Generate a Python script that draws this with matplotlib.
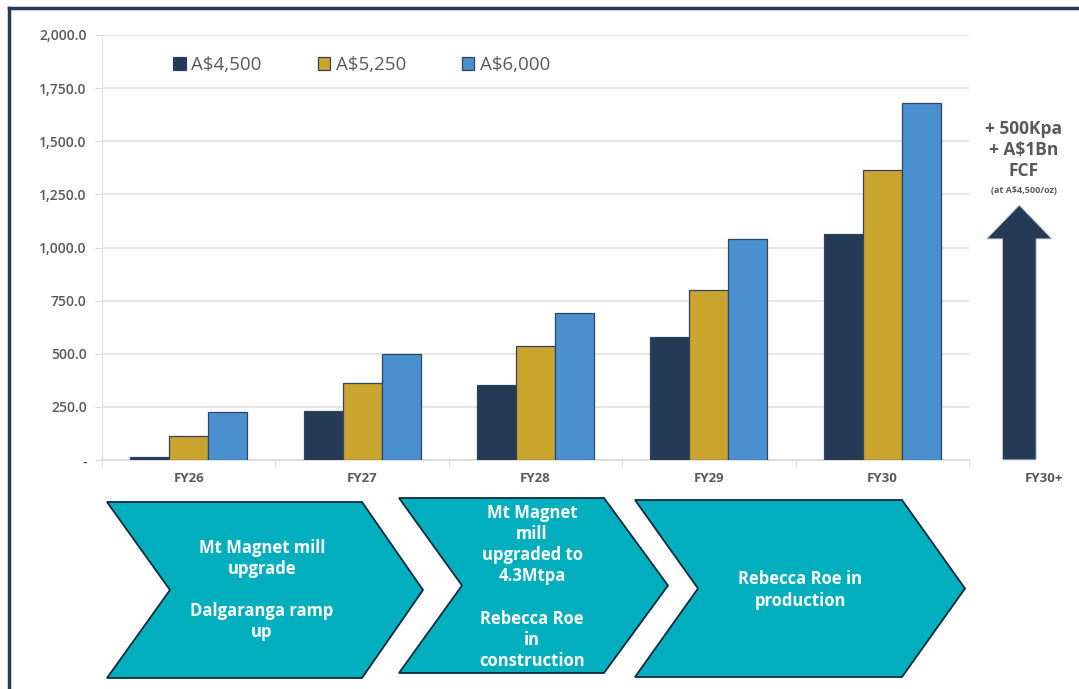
import matplotlib
matplotlib.use("Agg")
import matplotlib.pyplot as plt
from matplotlib.patches import Polygon
from matplotlib.lines import Line2D
import numpy as np

plt.rcParams['font.family'] = ['Open Sans', 'DejaVu Sans']

# ---- data ----
categories = ["FY26", "FY27", "FY28", "FY29", "FY30"]
series_names = ["A$4,500", "A$5,250", "A$6,000"]
s4500 = [12, 230, 353, 579, 1063]
s5250 = [113, 362, 536, 800, 1365]
s6000 = [226, 499, 692, 1040, 1680]
y_ticks = [0, 250, 500, 750, 1000, 1250, 1500, 1750, 2000]
extra_label = "FY30+"
arrow_value = 1200
arrow_text = ["+ 500Kpa", "+ A$1Bn", "FCF"]
arrow_note = "(at A$4,500/oz)"
stage_texts = [
    "Mt Magnet mill\nupgrade\n\nDalgaranga ramp\nup",
    "Mt Magnet\nmill\nupgraded to\n4.3Mtpa\n\nRebecca Roe\nin\nconstruction",
    "Rebecca Roe in\nproduction",
]

colors = ["#253A54", "#C9A42F", "#4A90CF"]
edge = "#2E4560"
gray = "#595959"
teal = "#00AEBE"

W, H = 1079, 689
fig = plt.figure(figsize=(W / 100, H / 100), dpi=100)

def fx(px):
    return px / W

def fy(py):
    return 1 - py / H

ax = fig.add_axes([fx(102), fy(460), fx(969) - fx(102), fy(35) - fy(460)])

x = np.arange(len(categories))
bw = 0.225
for i, (vals, c) in enumerate(zip([s4500, s5250, s6000], colors)):
    ax.bar(x + (i - 1) * bw, vals, bw, color=c, edgecolor=edge, linewidth=0.9,
           label=series_names[i], zorder=3)

ax.set_xlim(-0.5, 4.5)
ax.set_ylim(0, 2000)
ax.set_yticks(y_ticks)
ax.set_yticklabels(["-" if v == 0 else f"{v:,.1f}" for v in y_ticks],
                   fontsize=10, color=gray, fontweight='semibold')
ax.set_xticks(x)
ax.set_xticklabels(categories, fontsize=9.5, color=gray, fontweight='bold')
ax.set_xticks(np.arange(-0.5, 5, 1), minor=True)
ax.tick_params(axis='x', which='major', length=0, pad=9)
ax.tick_params(axis='x', which='minor', length=5, color="#D9D9D9")
ax.tick_params(axis='y', length=5, color="#D9D9D9", pad=6)
ax.grid(axis='y', color="#E0E0E0", linewidth=1.2, zorder=0)
for s in ['top', 'right']:
    ax.spines[s].set_visible(False)
ax.spines['left'].set_color("#E0E0E0")
ax.spines['bottom'].set_color("#D9D9D9")
ax.spines['bottom'].set_linewidth(1.2)

leg = ax.legend(loc='upper left', bbox_to_anchor=(0.063, 0.99), ncol=3, frameon=False,
                handlelength=0.65, handleheight=0.65, handletextpad=0.3,
                columnspacing=3.0, prop={'weight': 'medium', 'size': 13.5})
for t in leg.get_texts():
    t.set_color(gray)

# arrow (FY30+)
ax_x = 4.79
sw, hw, hl = 0.098, 0.19, 160
arrow_pts = [(ax_x - sw, 0), (ax_x + sw, 0), (ax_x + sw, arrow_value - hl),
             (ax_x + hw, arrow_value - hl), (ax_x, arrow_value),
             (ax_x - hw, arrow_value - hl), (ax_x - sw, arrow_value - hl)]
ax.add_patch(Polygon(arrow_pts, closed=True, facecolor=colors[0], edgecolor="#D0D5DC",
                     linewidth=0.8, clip_on=False, zorder=4))
ax.text(4.935, -88, extra_label, ha='center', va='center', fontsize=9.5, color=gray,
        fontweight='bold', clip_on=False)
for k, t in enumerate(arrow_text):
    ax.text(4.815, 1560 - k * 100, t, ha='center', va='center', fontsize=12.5,
            color=gray, fontweight='bold', clip_on=False)
ax.text(4.815, 1270, arrow_note, ha='center', va='center', fontsize=6.5, color=gray,
        fontweight='bold', clip_on=False)

# chevrons (figure pixel geometry)
chevrons = [
    (107, 362, 423, 170, 502, 678),
    (399, 604, 668, 462, 498, 673),
    (635, 902, 965, 698, 500, 677),
]
text_pos = [(262, 590), (532, 587), (800, 590)]
for (xl, xr, xt, xn, yt, yb), txt, (tx, ty) in zip(chevrons, stage_texts, text_pos):
    ym = (yt + yb) / 2
    pts = [(xl, yt), (xr, yt), (xt, ym), (xr, yb), (xl, yb), (xn, ym)]
    pts = [(fx(a), fy(b)) for a, b in pts]
    fig.patches.append(Polygon(pts, closed=True, facecolor=teal, edgecolor="#0E2A3A",
                               linewidth=1.3, transform=fig.transFigure, figure=fig))
    fig.text(fx(tx), fy(ty), txt, ha='center', va='center', color='white',
             fontsize=12, fontweight='bold', linespacing=1.22)

# border lines
fig.add_artist(Line2D([fx(9), fx(9)], [fy(8), 0], color="#253A54", linewidth=2.5,
                      transform=fig.transFigure))
fig.add_artist(Line2D([fx(9), 1], [fy(8), fy(8)], color="#253A54", linewidth=2.5,
                      transform=fig.transFigure))

fig.savefig("out.png", dpi=100)
